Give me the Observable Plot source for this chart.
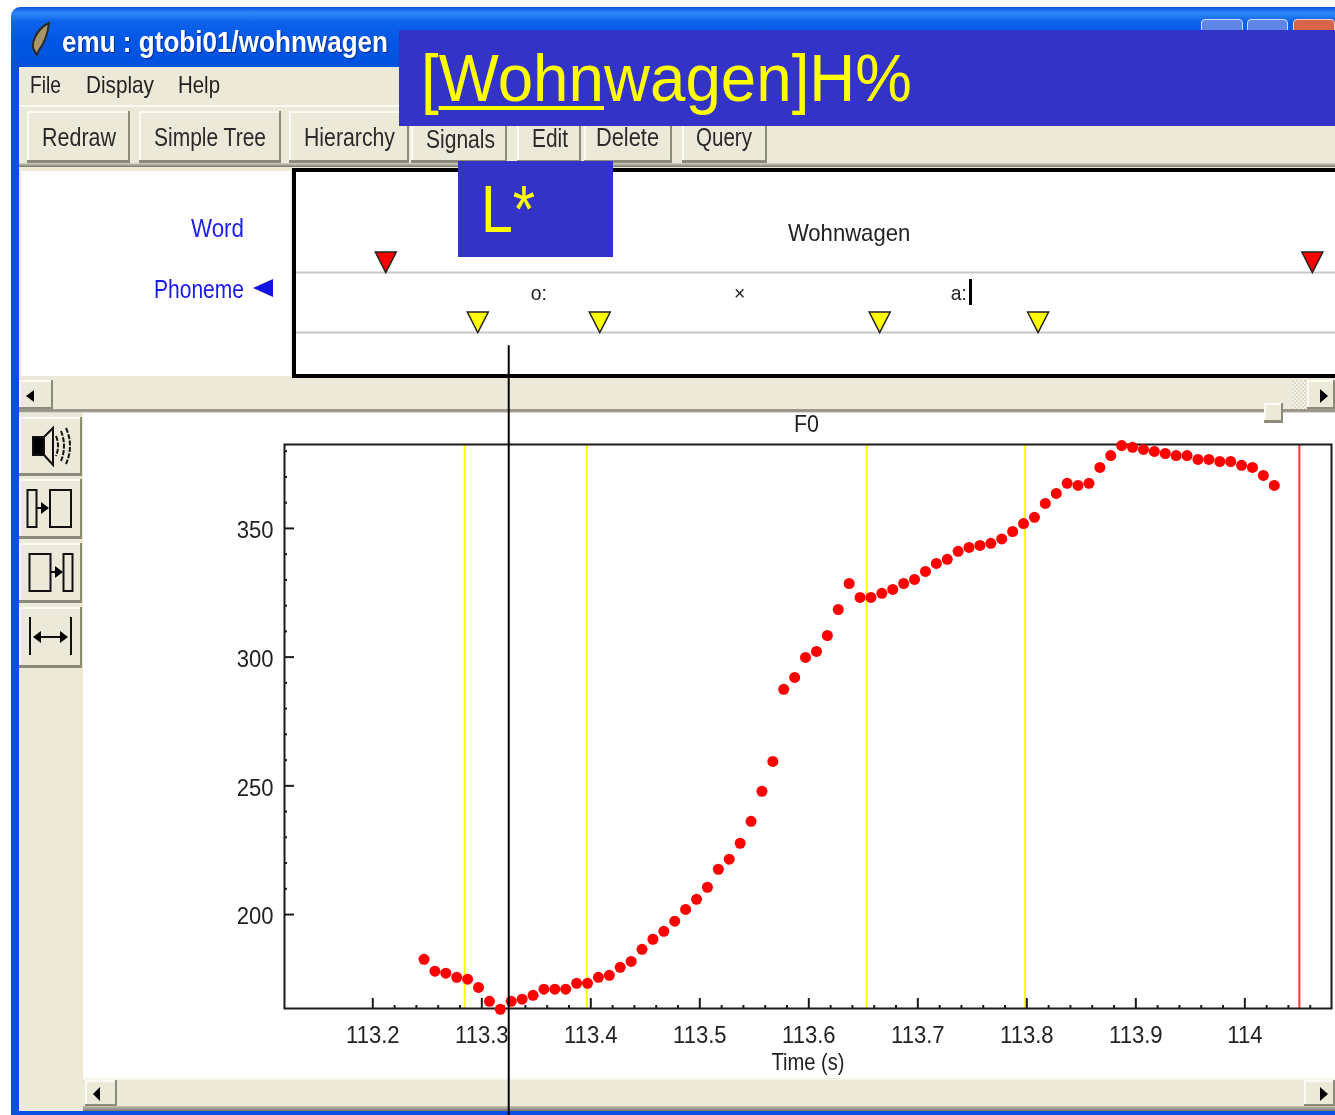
<!doctype html>
<html><head><meta charset="utf-8">
<script src="https://cdn.jsdelivr.net/npm/d3@7"></script>
<script src="https://cdn.jsdelivr.net/npm/@observablehq/plot@0.6"></script>
<style>
html,body{margin:0;padding:0;background:#fff}
#stage{position:relative;width:1335px;height:1115px;overflow:hidden;font-family:"Liberation Sans",Arial,sans-serif}
#base{position:absolute;left:0;top:0;width:1335px;height:1115px;filter:blur(.4px)}
.c{position:absolute}
.t{position:absolute;white-space:nowrap;transform-origin:0 0;line-height:1}
</style></head><body><div id="stage"><div id="base"></div></div>
<script>
// ---------- chart data ----------
const times = [113.247,113.257,113.267,113.277,113.287,113.297,113.307,113.317,113.327,113.337,113.347,113.357,113.367,113.377,113.387,113.397,113.407,113.417,113.427,113.437,113.447,113.457,113.467,113.477,113.487,113.497,113.507,113.517,113.527,113.537,113.547,113.557,113.567,113.577,113.587,113.597,113.607,113.617,113.627,113.637,113.647,113.657,113.667,113.677,113.687,113.697,113.707,113.717,113.727,113.737,113.747,113.757,113.767,113.777,113.787,113.797,113.807,113.817,113.827,113.837,113.847,113.857,113.867,113.877,113.887,113.897,113.907,113.917,113.927,113.937,113.947,113.957,113.967,113.977,113.987,113.997,114.007,114.017,114.027];
const f0 = [182.6,178.0,177.2,175.6,174.9,171.7,166.3,163.2,166.3,167.1,168.6,171.0,171.0,171.0,173.3,173.3,175.6,176.4,179.5,181.8,186.5,190.4,193.5,197.4,202.0,205.9,210.6,217.6,221.5,227.7,236.2,247.9,259.5,287.5,292.1,299.9,302.2,308.4,318.5,328.6,323.2,323.2,324.8,326.3,328.6,330.2,333.3,336.4,338.0,341.1,342.6,343.4,344.2,345.9,348.8,351.9,354.3,359.7,363.6,367.5,366.7,367.5,373.7,378.3,382.2,381.5,380.7,379.9,379.1,378.3,378.3,376.8,376.8,376.0,376.0,374.5,373.7,370.6,366.7];
const xMajor = [113.2,113.3,113.4,113.5,113.6,113.7,113.8,113.9,114];
const xMinor = [113.22,113.24,113.26,113.28,113.32,113.34,113.36,113.38,113.42,113.44,113.46,113.48,113.52,113.54,113.56,113.58,113.62,113.64,113.66,113.68,113.72,113.74,113.76,113.78,113.82,113.84,113.86,113.88,113.92,113.94,113.96,113.98,114.02,114.04,114.06];
const yMajor = [200,250,300,350];
const yMinor = [210,220,230,240,260,270,280,290,310,320,330,340,360,370,380];
const phonemeBounds = [113.2844,113.3963,113.6531,113.7984];
const wordBounds = [113.2,114.05];
const cursorTime = 113.3247;
const wordLabels = ["Wohnwagen"];
const phonemeLabels = ["o:","×","a:"];
const xDomain = [113.119,114.0795], yDomain = [163.5,382.6];

// ---------- window chrome ----------
const stage = document.getElementById("stage");
const base = document.getElementById("base");
const BEIGE = "#ECE9D8";
function box(x,y,w,h,css,z=1){const d=document.createElement("div");d.className="c";d.style.cssText=`left:${x}px;top:${y}px;width:${w}px;height:${h}px;z-index:${z};${css}`;(z===4?stage:base).appendChild(d);return d;}
function txt(s,x0,x1,cy,size,color,css="",z=1){const d=document.createElement("span");d.className="t";d.textContent=s;d.style.cssText=`left:${x0}px;top:${cy-size/2}px;font-size:${size}px;color:${color};z-index:${z};${css}`;(z===4?stage:base).appendChild(d);const w=d.getBoundingClientRect().width;if(w)d.style.transform=`scaleX(${(x1-x0)/w})`;return d;}
const RAISED = `background:${BEIGE};box-shadow:inset -2px -3px 0 #8c8a78,inset 2px 2px 0 #fbfaf4;`;

box(11,7,1324,60,"background:linear-gradient(#0a58dc 0,#2f88f6 10%,#0c62ea 25%,#0056e4 60%,#0052dc 100%);border-top-left-radius:9px");
box(11,60,8,1055,"background:#0a4fe2");
box(19,67,1316,1048,`background:${BEIGE}`);
// window buttons
box(1201,19,42,30,"background:#5f86e8;border:1px solid #cfdcf8;border-radius:4px;box-sizing:border-box");
box(1247,19,41,30,"background:#5f86e8;border:1px solid #cfdcf8;border-radius:4px;box-sizing:border-box");
box(1293,19,42,30,"background:#d8644a;border:1px solid #f0d0c8;border-radius:4px;box-sizing:border-box");
txt("emu : gtobi01/wohnwagen",62,388,42,29,"#fff","font-weight:bold;text-shadow:1px 1px 1px #0a2a90");
// menu
txt("File",30,61,85,24,"#222"); txt("Display",86,154,85,24,"#222"); txt("Help",178,220,85,24,"#222");
box(19,105,1316,2,"background:#faf9f2");
// toolbar
box(19,163,1316,4,"background:linear-gradient(#d8d5c4,#77756a)");
[[27,103,"Redraw",42,116,137],[139,142,"Simple Tree",154,266,137],[289,120,"Hierarchy",304,395,137],[411,96,"Signals",426,495,139],[517,64,"Edit",532,568,138],[584,88,"Delete",596,659,137],[682,85,"Query",696,752,137]].forEach(([x,w,s,a,b,cy])=>{box(x,111,w,52,RAISED);txt(s,a,b,cy,25,"#2a2a2a");});
// tier panel
box(21,171,270,205,"background:#fff");
box(292,168,1043,210,"background:#fff;border:solid #000;border-width:4px 0 4px 4px;box-sizing:border-box");
txt("Word",191,244,228,25,"#2222ee");
txt("Phoneme",154,244,289,25,"#1a1af0");
box(253,279,20,18,"background:#1414e0;clip-path:polygon(0 50%,100% 0,100% 100%)");
// upper scrollbar
box(19,378,1316,32,`background:${BEIGE}`);
box(19,380,34,30,RAISED);
box(1292,380,15,30,"background:repeating-conic-gradient(#f4f3ea 0 25%,#dcd9c8 0 50%) 0 0/4px 4px");
box(1307,380,28,30,RAISED);
box(26,390,8,12,"background:#000;clip-path:polygon(0 50%,100% 0,100% 100%)");
box(1320,389,8,14,"background:#000;clip-path:polygon(0 0,100% 50%,0 100%)");
box(19,409,1316,4,"background:linear-gradient(#a8a594,#8a8878,#f0efe6)");
box(1264,403,19,20,`${RAISED}`,2);
// lower area
box(83,413,1252,665,"background:#fff");
box(19,413,64,698,`background:${BEIGE}`);
[[417,59],[479,60],[543,60],[607,61]].forEach(([y,h])=>box(19,y,63,h,RAISED));
box(83,1078,1252,2,"background:#f6f5ee");
box(85,1080,32,27,RAISED);
box(1304,1080,31,27,RAISED);
box(93,1087,7,14,"background:#000;clip-path:polygon(0 50%,100% 0,100% 100%)");
box(1320,1087,8,14,"background:#000;clip-path:polygon(0 0,100% 50%,0 100%)");
box(83,1106,1252,5,"background:linear-gradient(#c8c5b4,#77756a)");
box(11,1111,1324,4,"background:#0a4fe2");
// F0 panel title
txt("F0",794,819,424,23,"#222");
// caret
box(969,279,3,26,"background:#000",3);
// icons
const icons=document.createElementNS("http://www.w3.org/2000/svg","svg");
icons.setAttribute("width",1335);icons.setAttribute("height",1115);
icons.setAttribute("style","position:absolute;left:0;top:0;z-index:2;pointer-events:none");
icons.innerHTML=`
<path d="M49 23C38 28 32 40 33 48L37 55L39 50C45 42 48 32 49 23Z" fill="#a89868" stroke="#2a2a20" stroke-width="2"/>
<g fill="none" stroke="#111" stroke-width="2">
<rect x="33" y="437" width="11" height="18" fill="#000"/><path d="M44 437L53 428V465L44 455"/>
<path d="M56 436Q60 446 56 456M61 431Q67 446 61 461M66 428Q74 446 66 464" stroke-dasharray="5 1.5"/>
<rect x="27.5" y="490" width="9" height="37"/><rect x="50" y="490" width="21" height="37"/><path d="M37 508H46"/>
<rect x="29.5" y="554" width="21" height="37"/><rect x="63.5" y="554" width="9" height="37"/><path d="M51 572H60"/>
<path d="M30 617V655M71 617V655M36 637H65"/></g>
<path d="M33 637L41 631V643ZM68 637L60 631V643ZM49 508L41 502V514ZM63 572L55 566V578Z" fill="#000"/>`;
base.appendChild(icons);

// ---------- annotation tiers ----------
const FONT = '"Liberation Sans",Arial,sans-serif';
const triDown = {draw(ctx,size){const r=Math.sqrt(size/Math.PI);ctx.moveTo(-r,-r*.95);ctx.lineTo(r,-r*.95);ctx.lineTo(0,r);ctx.closePath();}};
const mid = (a,b)=>(a+b)/2;
const wordRows = wordLabels.map(label=>({label,t:mid(...wordBounds)}));
const phonRows = phonemeLabels.map((label,i)=>({label,t:mid(phonemeBounds[i],phonemeBounds[i+1])}));
const tiers = Plot.plot({
  width:1335,height:1115,marginLeft:296,marginRight:0,marginTop:0,marginBottom:0,
  x:{domain:xDomain,range:[297,1344],axis:null},
  y:{domain:[1,2],range:[272,332],axis:null},
  style:{background:"transparent",position:"absolute",left:"0",top:"0",zIndex:2,fontFamily:FONT,overflow:"hidden"},
  marks:[
    Plot.ruleY([1,2],{stroke:"#c8c8c8",strokeWidth:2}),
    Plot.dot(wordBounds,{x:d=>d,y:()=>1,r:10.5,dy:-10.5,symbol:triDown,fill:"#ff0000",stroke:"#222",strokeWidth:1.5}),
    Plot.dot(phonemeBounds,{x:d=>d,y:()=>2,r:10.5,dy:-10.5,symbol:triDown,fill:"#ffff00",stroke:"#222",strokeWidth:1.5}),
    Plot.text(wordRows,{x:"t",y:()=>1,text:"label",dy:-39,fontSize:24,fill:"#222"}),
    Plot.text(phonRows,{x:"t",y:()=>2,text:"label",dy:-39,fontSize:21,fill:"#222"})
  ]
});
base.appendChild(tiers);

// ---------- F0 chart ----------
const rows = times.map((t,i)=>({t,v:f0[i]}));
const tickLong = 10, tickShort = 3;
const yPerPx = (yDomain[1]-yDomain[0])/564, xPerPx = (xDomain[1]-xDomain[0])/1047;
const chart = Plot.plot({
  width:1335,height:1115,marginLeft:284,marginRight:4,marginTop:444,marginBottom:107,
  x:{domain:xDomain}, y:{domain:yDomain},
  style:{background:"transparent",position:"absolute",left:"0",top:"0",zIndex:3,fontFamily:FONT,overflow:"hidden"},
  marks:[
    Plot.ruleX(phonemeBounds,{stroke:"#ffff00",strokeWidth:2}),
    Plot.ruleX([wordBounds[1]],{stroke:"#ff3333",strokeWidth:2}),
    Plot.frame({stroke:"#1a1a1a",strokeWidth:2}),
    Plot.ruleX(xMajor,{y1:yDomain[0],y2:yDomain[0]+tickLong*yPerPx,stroke:"#1a1a1a",strokeWidth:2}),
    Plot.ruleX(xMinor,{y1:yDomain[0],y2:yDomain[0]+tickShort*yPerPx,stroke:"#1a1a1a",strokeWidth:2}),
    Plot.ruleY(yMajor,{x1:xDomain[0],x2:xDomain[0]+tickLong*xPerPx,stroke:"#1a1a1a",strokeWidth:2}),
    Plot.ruleY(yMinor,{x1:xDomain[0],x2:xDomain[0]+tickShort*xPerPx,stroke:"#1a1a1a",strokeWidth:2}),
    Plot.axisX({ticks:xMajor,tickSize:0,tickPadding:17,fontSize:24,fill:"#222",tickFormat:d=>String(d),label:null}),
    Plot.axisX({ticks:[],tickSize:0,fontSize:24,fill:"#222",label:"Time (s)",labelAnchor:"center",labelArrow:"none",labelOffset:61}),
    Plot.axisY({ticks:yMajor,tickSize:0,tickPadding:11,fontSize:24,fill:"#222",label:null,dy:2}),
    Plot.dot(rows,{x:"t",y:"v",r:5.5,fill:"#ff0000"}),
    Plot.ruleX([cursorTime],{y1:421,y2:122,stroke:"#000",strokeWidth:2})
  ]
});
base.appendChild(chart);
// the original's lettering is narrow: condense the chart's text to the same widths
[chart,tiers].forEach(svg=>svg.querySelectorAll("text").forEach(t=>{
  const k = t.textContent==="Time (s)" ? .84 : .92;
  t.setAttribute("textLength",t.getComputedTextLength()*k);
  t.setAttribute("lengthAdjust","spacingAndGlyphs");
}));

// ---------- slide overlays ----------
box(399,30,936,96,"background:#3333c8",4);
box(458,161,155,96,"background:#3333c8",4);
const big = txt("",421,912,78,66,"#ffff00","",4);
big.innerHTML='[<u style="text-decoration-thickness:4px;text-underline-offset:5px">Wohn</u>wagen]H%';
big.style.transform=`scaleX(${491/big.getBoundingClientRect().width})`;
txt("L*",481,535,209,66,"#ffff00","",4);
</script></body></html>
